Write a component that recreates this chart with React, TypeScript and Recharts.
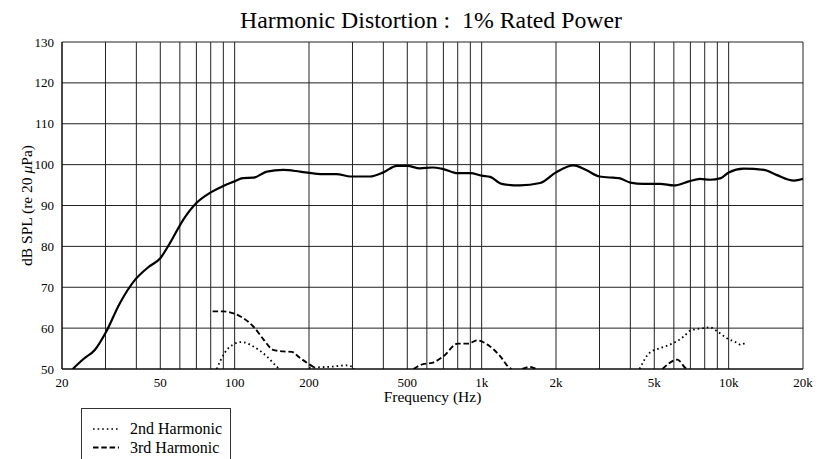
import React from 'react'
import { LineChart, Line, XAxis, YAxis, CartesianGrid, Label } from 'recharts'

// frequency response at 1% rated power (Hz, dB SPL)
const responseFreq = [
  22.1, 24.5, 27.2, 30, 34.3, 39.5, 44.7, 50, 54.7, 61.9, 70, 80, 90, 100, 108, 119, 135, 157, 184,
  222, 258, 295, 353, 400, 454, 500, 562, 630, 700, 800, 900, 1000, 1084, 1205, 1426, 1726, 2000,
  2354, 2661, 3000, 3400, 3600, 4000, 4520, 5280, 6000, 6900, 7660, 8400, 9300, 10000, 11500, 13900,
  15600, 18400, 20000,
]
const responseDb = [
  50, 52.5, 54.7, 58.8, 66.1, 71.8, 74.9, 77.1, 80.8, 86.5, 90.6, 93.2, 94.8, 95.9, 96.7, 96.8, 98.3,
  98.7, 98.3, 97.7, 97.7, 97.1, 97.1, 98.1, 99.7, 99.7, 99.1, 99.3, 98.9, 97.9, 97.9, 97.3, 97.0, 95.3,
  94.9, 95.5, 98.1, 99.8, 98.6, 97.1, 96.8, 96.7, 95.6, 95.3, 95.3, 94.9, 95.9, 96.5, 96.3, 96.7, 98.1,
  99.0, 98.7, 97.5, 96.1, 96.5,
]

// 2nd harmonic (null = below chart floor)
const secondFreq = [
  84.6, 91, 98, 107, 119, 135, 148, 152, 170, 200, 215, 250, 283, 300, 305, 1000, 4360, 4770, 5280,
  6000, 6600, 7000, 7900, 8400, 9000, 9800, 10800, 11200, 11800,
]
const secondDb = [
  50, 53.9, 55.9, 56.6, 55.5, 53.1, 50.6, 50, null, 50.3, 50.4, 50.6, 50.9, 50.5, 50, null, 50, 53.9,
  55.1, 56.4, 58.0, 59.4, 60.0, 60.2, 59.2, 57.6, 56.4, 55.9, 56.7,
]

// 3rd harmonic
const thirdFreq = [
  81.4, 90, 100, 108, 119, 131, 143, 157, 170, 184, 202, 212, 400, 530, 580, 630, 700, 800, 880, 960,
  1060, 1190, 1300, 1320, 1400, 1460, 1570, 1660, 3000, 5400, 6200, 6700, 6800,
]
const thirdDb = [
  64.1, 64.1, 63.5, 62.5, 60.4, 57.2, 54.7, 54.3, 54.2, 52.7, 51.0, 50.2, null, 50, 51.2, 51.5, 53.1,
  56.2, 56.2, 57.0, 55.9, 53.1, 50.2, 50, null, 50, 50.5, 50, null, 50, 52.3, 50.2, 50,
]

const gridFreqs = [
  20, 30, 40, 50, 60, 70, 80, 90, 100, 200, 300, 400, 500, 600, 700, 800, 900, 1000, 2000, 3000, 4000,
  5000, 6000, 7000, 8000, 9000, 10000, 20000,
]
const freqLabels: Record<number, string> = {
  20: '20', 50: '50', 100: '100', 200: '200', 500: '500', 1000: '1k', 2000: '2k', 5000: '5k',
  10000: '10k', 20000: '20k',
}
const dbTicks = [50, 60, 70, 80, 90, 100, 110, 120, 130]
const legendNames = ['2nd Harmonic', '3rd Harmonic']

const toRows = (fs: number[], vs: (number | null)[]) => fs.map((f, i) => ({ f, db: vs[i] }))
const response = toRows(responseFreq, responseDb)
const second = toRows(secondFreq, secondDb)
const third = toRows(thirdFreq, thirdDb)

const FONT = '"Liberation Serif", "Times New Roman", serif'
const DOTTED = '1.6 3'
const DASHED = '5.5 2.8'

const FreqTick = ({ x, y, payload }: any) => {
  const txt = freqLabels[payload.value]
  if (!txt) return <g />
  return (
    <text x={x} y={y} dy={10} textAnchor="middle" fontSize={13} fontFamily={FONT} fill="#000">
      {txt}
    </text>
  )
}

const DbTick = ({ x, y, payload }: any) => (
  <text x={x} y={y} dy={4.5} textAnchor="end" fontSize={13} fontFamily={FONT} fill="#000">
    {payload.value}
  </text>
)

export default function App() {
  return (
    <div
      style={{
        position: 'absolute',
        left: 0,
        top: 0,
        width: 820,
        height: 459,
        background: '#fff',
        fontFamily: FONT,
      }}
    >
      <LineChart width={820} height={459} data={response} margin={{ top: 42, right: 17, bottom: 60, left: 0 }}>
        <CartesianGrid stroke="#222" strokeWidth={1} />
        <XAxis
          dataKey="f"
          type="number"
          scale="log"
          domain={[20, 20000]}
          ticks={gridFreqs}
          allowDataOverflow
          tickLine={false}
          axisLine={{ stroke: '#000' }}
          tick={<FreqTick />}
          height={30}
          interval={0}
        >
          <Label
            content={() => (
              <text x={432.5} y={402} textAnchor="middle" fontSize={15.5} fontFamily={FONT} fill="#000">
                Frequency (Hz)
              </text>
            )}
          />
        </XAxis>
        <YAxis
          type="number"
          domain={[50, 130]}
          ticks={dbTicks}
          allowDataOverflow
          tickLine={false}
          axisLine={{ stroke: '#000' }}
          tick={<DbTick />}
          width={62}
          interval={0}
        >
          <Label
            content={() => (
              <text
                x={32}
                y={205.5}
                transform="rotate(-90 32 205.5)"
                textAnchor="middle"
                fontSize={15.5}
                fontFamily={FONT}
                fill="#000"
              >
                dB SPL (re 20 <tspan fontStyle="italic">μ</tspan>Pa)
              </text>
            )}
          />
        </YAxis>
        <Line
          data={response}
          dataKey="db"
          type="monotone"
          stroke="#000"
          strokeWidth={2.2}
          dot={false}
          isAnimationActive={false}
        />
        <Line
          data={second}
          dataKey="db"
          type="monotone"
          stroke="#000"
          strokeWidth={1.8}
          strokeDasharray={DOTTED}
          dot={false}
          isAnimationActive={false}
        />
        <Line
          data={third}
          dataKey="db"
          type="monotone"
          stroke="#000"
          strokeWidth={1.9}
          strokeDasharray={DASHED}
          dot={false}
          isAnimationActive={false}
        />
      </LineChart>
      <svg
        width={820}
        height={459}
        style={{ position: 'absolute', left: 0, top: 0, pointerEvents: 'none' }}
      >
        <text x={431} y={28} textAnchor="middle" fontSize={23.8} fontFamily={FONT} fill="#000">
          Harmonic Distortion :{'\u00a0\u00a0'}1% Rated Power
        </text>
        <rect x={81.5} y={408.5} width={149} height={70} fill="none" stroke="#333" strokeWidth={1} />
        {legendNames.map((name, i) => (
          <g key={name}>
            <line
              x1={93}
              x2={119}
              y1={429 + i * 18.5}
              y2={429 + i * 18.5}
              stroke="#000"
              strokeWidth={i === 0 ? 1.6 : 1.9}
              strokeDasharray={i === 0 ? DOTTED : DASHED}
            />
            <text x={130} y={434 + i * 18.5} fontSize={16} fontFamily={FONT} fill="#000">
              {name}
            </text>
          </g>
        ))}
      </svg>
    </div>
  )
}
